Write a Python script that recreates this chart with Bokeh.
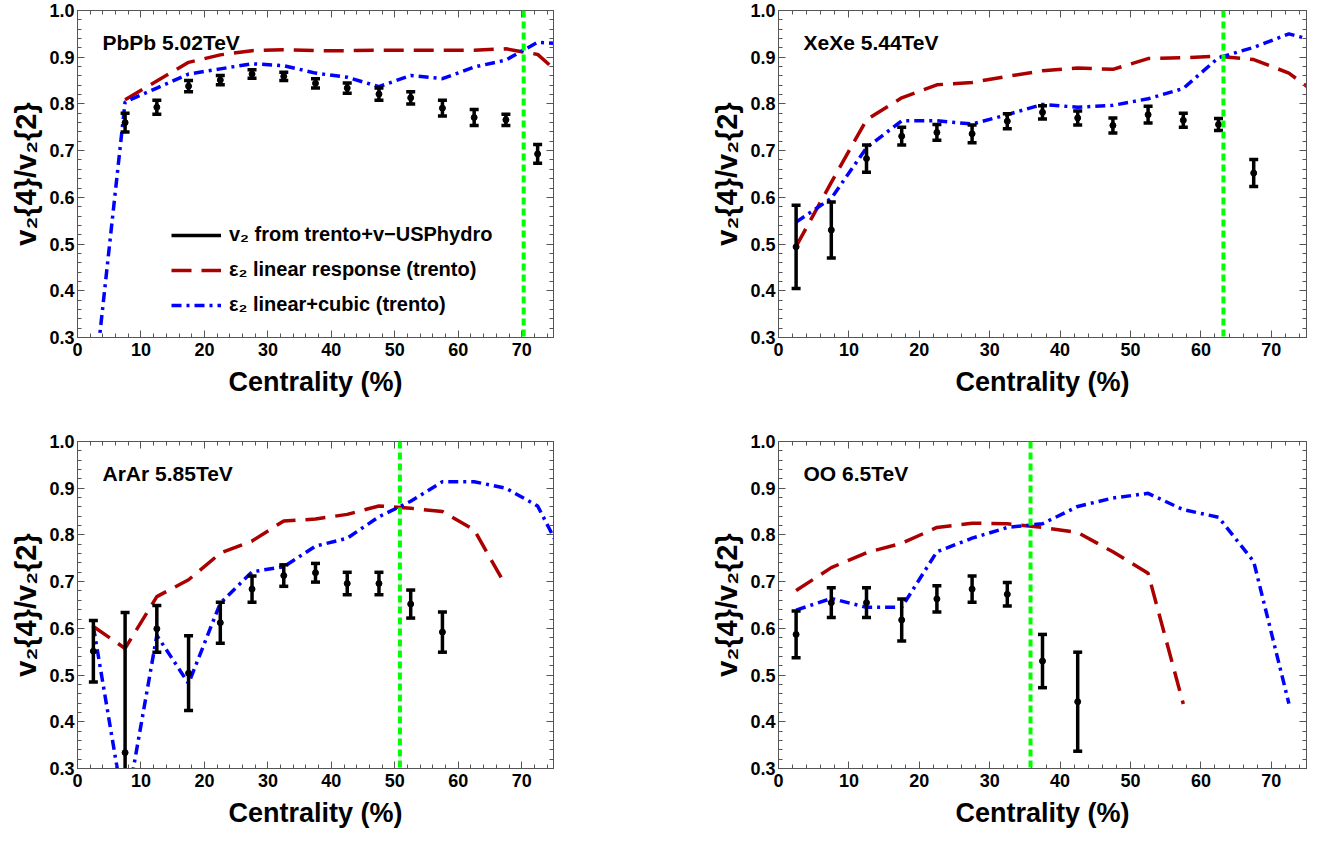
from bokeh.plotting import figure
from bokeh.models import (Range1d, LinearAxis, Span, Label, Legend, LegendItem,
                          FixedTicker, CustomJSTickFormatter, PrintfTickFormatter)
from bokeh.layouts import row, column
from bokeh.embed import file_html
from bokeh.resources import INLINE

# ---------------- data ----------------
cent = [2.5, 7.5, 12.5, 17.5, 22.5, 27.5, 32.5, 37.5, 42.5, 47.5,
        52.5, 57.5, 62.5, 67.5, 72.5, 77.5]

systems = ["PbPb 5.02TeV", "XeXe 5.44TeV", "ArAr 5.85TeV", "OO 6.5TeV"]
green_cut = [70.3, 63.2, 50.8, 35.8]

# PbPb
pb_v2_x = cent[1:15]
pb_v2 = [0.760, 0.793, 0.838, 0.851, 0.864, 0.859, 0.844, 0.834, 0.821, 0.813, 0.791, 0.771, 0.766, 0.693]
pb_err = [0.020, 0.015, 0.012, 0.010, 0.009, 0.009, 0.010, 0.011, 0.013, 0.013, 0.017, 0.017, 0.012, 0.020]
pb_lin_x = cent[1:16]
pb_lin = [0.809, 0.849, 0.889, 0.905, 0.914, 0.916, 0.914, 0.914, 0.915, 0.915, 0.915, 0.915, 0.918, 0.906, 0.846]
pb_cub_x = cent[0:16]
pb_cub = [0.18, 0.804, 0.834, 0.864, 0.875, 0.886, 0.882, 0.866, 0.857, 0.837, 0.861, 0.854, 0.879, 0.894, 0.932, 0.928]

# XeXe
xe_v2_x = cent[0:14]
xe_v2 = [0.494, 0.530, 0.683, 0.731, 0.739, 0.736, 0.763, 0.782, 0.770, 0.754, 0.777, 0.765, 0.756, 0.652]
xe_err = [0.089, 0.060, 0.029, 0.019, 0.017, 0.019, 0.016, 0.014, 0.015, 0.016, 0.018, 0.015, 0.013, 0.029]
xe_lin_x = cent[0:16]
xe_lin = [0.495, 0.632, 0.766, 0.813, 0.841, 0.846, 0.859, 0.871, 0.877, 0.874, 0.897, 0.899, 0.902, 0.895, 0.866, 0.810]
xe_cub_x = cent[0:16]
xe_cub = [0.547, 0.598, 0.706, 0.764, 0.764, 0.757, 0.777, 0.799, 0.793, 0.797, 0.811, 0.833, 0.899, 0.921, 0.950, 0.930]

# ArAr
ar_v2_x = cent[0:12]
ar_v2 = [0.551, 0.334, 0.599, 0.504, 0.612, 0.684, 0.713, 0.719, 0.696, 0.696, 0.652, 0.592]
ar_err = [0.066, 0.300, 0.050, 0.080, 0.044, 0.028, 0.023, 0.020, 0.024, 0.024, 0.030, 0.043]
ar_lin_x = cent[0:14]
ar_lin = [0.604, 0.557, 0.668, 0.704, 0.761, 0.787, 0.830, 0.834, 0.844, 0.862, 0.857, 0.850, 0.811, 0.691]
ar_cub_x = cent[0:16]
ar_cub = [0.604, 0.200, 0.585, 0.482, 0.654, 0.721, 0.732, 0.776, 0.793, 0.839, 0.872, 0.914, 0.914, 0.900, 0.862, 0.730]

# OO
oo_v2_x = cent[0:9]
oo_v2 = [0.587, 0.655, 0.655, 0.618, 0.663, 0.684, 0.673, 0.530, 0.443]
oo_err = [0.050, 0.032, 0.032, 0.045, 0.028, 0.028, 0.025, 0.057, 0.106]
oo_lin_x = cent[0:12]
oo_lin = [0.681, 0.730, 0.762, 0.782, 0.816, 0.825, 0.824, 0.816, 0.805, 0.764, 0.718, 0.438]
oo_cub_x = cent[0:15]
oo_cub = [0.639, 0.664, 0.645, 0.645, 0.764, 0.793, 0.816, 0.824, 0.861, 0.879, 0.889, 0.854, 0.838, 0.743, 0.439]

x_ticks = [0, 10, 20, 30, 40, 50, 60, 70]
y_ticks = [0.3, 0.4, 0.5, 0.6, 0.7, 0.8, 0.9, 1.0]

legend_labels = ["v\u2082 from trento+v\u2212USPhydro",
                 "\u03b5\u2082 linear response (trento)",
                 "\u03b5\u2082 linear+cubic (trento)"]

# ---------------- style ----------------
FONT = "Liberation Sans"
RED = "#AA0000"
BLUE = "#0000FF"
GREEN = "#00FF00"
AXC = "#555555"

x_minor = [2 * i for i in range(38)]
y_minor = [round(0.3 + 0.02 * i, 2) for i in range(36)]


def style_axis(ax):
    ax.axis_line_color = AXC
    ax.major_tick_line_color = AXC
    ax.minor_tick_line_color = AXC
    ax.major_tick_in = 7
    ax.major_tick_out = 0
    ax.minor_tick_in = 4
    ax.minor_tick_out = 0
    ax.major_label_text_font = FONT
    ax.major_label_text_font_style = "bold"
    ax.major_label_text_font_size = "18px"
    ax.major_label_text_color = "black"
    ax.axis_label_text_font = FONT
    ax.axis_label_text_font_style = "bold"
    ax.axis_label_text_font_size = "27px"
    ax.axis_label_text_color = "black"


def make_panel(idx, v2x, v2, err, linx, lin, cubx, cub,
               width, height, bl, br, bt, bb, title_dx):
    p = figure(width=width, height=height, output_backend="svg", toolbar_location=None,
               x_range=Range1d(0, 75), y_range=Range1d(0.3, 1.0),
               min_border_left=bl, min_border_right=br, min_border_top=bt, min_border_bottom=bb)
    p.xgrid.visible = False
    p.ygrid.visible = False
    p.outline_line_color = AXC
    p.background_fill_color = "white"
    p.border_fill_color = "white"

    for ax in p.xaxis:
        style_axis(ax)
        ax.ticker = FixedTicker(ticks=x_ticks, minor_ticks=x_minor)
        ax.axis_label = "Centrality (%)"
        ax.major_label_standoff = 5
        ax.axis_label_standoff = 8
    for ax in p.yaxis:
        style_axis(ax)
        ax.ticker = FixedTicker(ticks=y_ticks, minor_ticks=y_minor)
        ax.formatter = PrintfTickFormatter(format="%.1f")
        ax.axis_label = "v\u2082{4}/v\u2082{2}"
        ax.axis_label_text_font_size = "29px"
        ax.major_label_standoff = 3
        ax.axis_label_standoff = 4

    blank = CustomJSTickFormatter(code="return ''")
    top = LinearAxis(ticker=FixedTicker(ticks=x_ticks, minor_ticks=x_minor), formatter=blank)
    right = LinearAxis(ticker=FixedTicker(ticks=y_ticks, minor_ticks=y_minor), formatter=blank)
    for ax in (top, right):
        style_axis(ax)
        ax.major_label_text_font_size = "1px"
        ax.major_label_standoff = 0
    p.add_layout(top, "above")
    p.add_layout(right, "right")

    lo = [v - e for v, e in zip(v2, err)]
    hi = [v + e for v, e in zip(v2, err)]

    r_lin = p.line(linx, lin, line_color=RED, line_width=3.5, line_dash="20 10")
    r_cub = p.line(cubx, cub, line_color=BLUE, line_width=3.5, line_dash="10 5 3 5")
    r_bar = p.segment(x0=v2x, y0=lo, x1=v2x, y1=hi, line_color="black", line_width=3.5)
    p.scatter(v2x, lo, marker="dash", size=9, line_color="black", line_width=3.5)
    p.scatter(v2x, hi, marker="dash", size=9, line_color="black", line_width=3.5)
    p.scatter(v2x, v2, marker="circle", size=6, fill_color="black", line_color="black")

    p.add_layout(Span(location=green_cut[idx], dimension="height", line_color=GREEN,
                      line_width=4, line_dash="7 4"))

    p.add_layout(Label(x=title_dx, y=0.957, text=systems[idx], text_font=FONT,
                       text_font_style="bold", text_font_size="21px",
                       text_color="black", text_baseline="top"))
    return p, (r_bar, r_lin, r_cub)


p1, rs = make_panel(0, pb_v2_x, pb_v2, pb_err, pb_lin_x, pb_lin, pb_cub_x, pb_cub,
                    640, 430, 77, 87, 10, 93, 3.94)
p2, _ = make_panel(1, xe_v2_x, xe_v2, xe_err, xe_lin_x, xe_lin, xe_cub_x, xe_cub,
                   684, 430, 138, 18, 10, 93, 3.55)
p3, _ = make_panel(2, ar_v2_x, ar_v2, ar_err, ar_lin_x, ar_lin, ar_cub_x, ar_cub,
                   640, 414, 77, 87, 11, 76, 3.94)
p4, _ = make_panel(3, oo_v2_x, oo_v2, oo_err, oo_lin_x, oo_lin, oo_cub_x, oo_cub,
                   684, 414, 138, 18, 11, 76, 3.55)

legend = Legend(items=[LegendItem(label=legend_labels[i], renderers=[rs[i]]) for i in range(3)],
                location=(94, 21), orientation="vertical",
                label_text_font=FONT, label_text_font_style="bold", label_text_font_size="20px",
                label_text_color="black", glyph_width=50, glyph_height=20, label_height=20,
                spacing=12, padding=0, margin=0, label_standoff=8,
                border_line_alpha=0, background_fill_alpha=0)
p1.add_layout(legend)

layout = column(row(p1, p2), row(p3, p4))
open("out.html", "w").write(file_html(layout, INLINE))
